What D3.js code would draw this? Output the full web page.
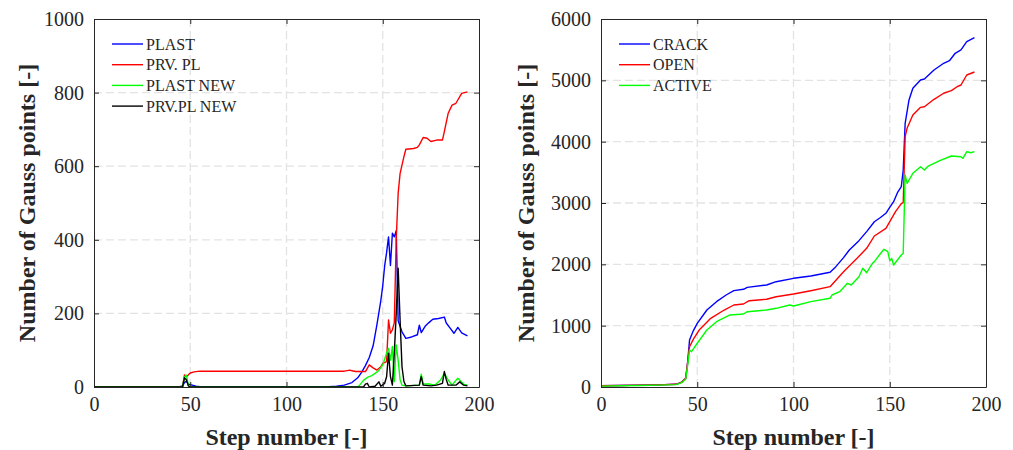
<!DOCTYPE html>
<html>
<head>
<meta charset="utf-8">
<script src="https://cdn.jsdelivr.net/npm/d3@7"></script>
<style>
  body { margin: 0; background: #fff; }
  svg text { font-family: "Liberation Serif", "Times New Roman", serif; fill: #262626; }
</style>
</head>
<body>
<div id="chart"></div>
<script>
//////////////////////
// DATA (read off) //
//////////////////////

var xTicks = [0, 50, 100, 150, 200];
var yTicksLeft = [0, 200, 400, 600, 800, 1000];
var yTicksRight = [0, 1000, 2000, 3000, 4000, 5000, 6000];

// left panel
var plastSteps = [0, 44, 46, 47, 48, 49, 51, 53, 56, 120, 126, 130, 134, 137, 139, 141, 143, 145, 147, 149, 150, 151, 152, 153, 154, 155, 156, 157, 158, 160, 162, 165, 168, 169, 170, 172, 174, 176, 179, 182, 183, 185, 187, 189, 191, 194];
var plastVals  = [0, 0, 3, 12, 16, 8, 5, 2, 0, 0, 2, 5, 12, 25, 40, 58, 80, 112, 170, 235, 275, 330, 365, 408, 330, 418, 408, 425, 180, 150, 132, 136, 142, 168, 148, 165, 175, 184, 186, 190, 174, 160, 146, 162, 147, 139];

var prvSteps = [0, 46, 47, 48, 50, 52, 55, 130, 133, 134, 136, 141, 143, 145, 147, 149, 150, 152, 153, 154, 155, 156, 157, 158, 159, 161, 162, 166, 168, 169, 171, 173, 175, 178, 181, 182, 184, 186, 188, 191, 194];
var prvVals  = [0, 0, 33, 28, 38, 41, 43, 43, 46, 44, 42, 42, 60, 52, 46, 55, 64, 69, 182, 146, 155, 175, 400, 526, 580, 626, 646, 648, 651, 658, 678, 676, 667, 671, 671, 694, 744, 766, 771, 798, 802];

var plastNewSteps = [0, 46, 47, 48, 49, 50, 137, 138, 140, 142, 144, 146, 148, 150, 152, 153, 154, 155, 156, 157, 158, 159, 160, 162, 169, 170, 171, 174, 177, 180, 182, 184, 186, 189, 192, 194];
var plastNewVals  = [0, 0, 28, 32, 5, 0, 0, 5, 18, 26, 30, 37, 45, 60, 92, 105, 73, 110, 15, 114, 73, 20, 5, 3, 5, 35, 8, 8, 5, 19, 37, 19, 5, 24, 8, 5];

var prvNewSteps = [0, 46, 47, 48, 49, 50, 140, 141, 142, 143, 146, 148, 149, 151, 152, 153, 154, 155, 156, 157, 158, 159, 160, 161, 162, 169, 170, 171, 175, 178, 181, 182, 183, 184, 188, 190, 192, 194];
var prvNewVals  = [0, 0, 25, 20, 3, 0, 0, 8, 10, 0, 2, 14, 2, 10, 28, 92, 28, 5, 92, 200, 323, 182, 55, 15, 3, 5, 28, 5, 3, 5, 10, 42, 20, 5, 5, 14, 5, 3];

// right panel
var crackSteps = [0, 10, 20, 30, 39, 42, 44, 45, 46, 48, 50, 55, 60, 65, 69, 74, 76, 86, 91, 100, 109, 119, 122, 126, 129, 134, 138, 142, 145, 148, 150, 152, 154, 156, 157, 158, 160, 162, 166, 168, 173, 178, 181, 184, 187, 190, 194];
var crackVals  = [20, 25, 30, 35, 44, 80, 142, 400, 766, 920, 1038, 1255, 1391, 1500, 1571, 1593, 1625, 1663, 1717, 1772, 1810, 1870, 1962, 2110, 2234, 2386, 2533, 2695, 2760, 2832, 2930, 3021, 3168, 3266, 3538, 4300, 4680, 4870, 5006, 5022, 5169, 5278, 5320, 5441, 5495, 5630, 5696];

var openSteps = [0, 10, 20, 30, 39, 42, 44, 45, 46, 48, 51, 57, 64, 69, 74, 77, 86, 91, 100, 109, 119, 126, 133, 138, 142, 148, 153, 156, 157, 158, 159, 162, 166, 168, 173, 178, 182, 185, 187, 190, 194];
var openVals  = [20, 25, 30, 35, 44, 80, 142, 400, 657, 780, 929, 1120, 1255, 1337, 1353, 1407, 1430, 1472, 1516, 1570, 1636, 1880, 2098, 2261, 2462, 2587, 2858, 2990, 3005, 4081, 4218, 4435, 4560, 4570, 4691, 4789, 4831, 4896, 4924, 5087, 5136];

var activeSteps = [0, 10, 20, 30, 39, 42, 44, 45, 46, 47, 50, 55, 60, 67, 74, 76, 86, 91, 98, 100, 109, 119, 120, 124, 128, 130, 134, 136, 138, 141, 142, 145, 147, 149, 150, 151, 152, 156, 157, 158, 159, 162, 166, 168, 170, 176, 182, 187, 188, 190, 192, 194];
var activeVals  = [15, 20, 25, 30, 38, 70, 130, 350, 603, 576, 713, 929, 1065, 1174, 1190, 1228, 1255, 1283, 1337, 1321, 1391, 1446, 1500, 1554, 1691, 1663, 1798, 1935, 1864, 2016, 2044, 2169, 2245, 2207, 2059, 2098, 1989, 2152, 2180, 3457, 3321, 3484, 3592, 3538, 3603, 3690, 3766, 3755, 3728, 3837, 3820, 3837];

var leftSeries = [
  { name: "PLAST", color: "#0000ff", steps: plastSteps, vals: plastVals },
  { name: "PRV. PL", color: "#ff0000", steps: prvSteps, vals: prvVals },
  { name: "PLAST NEW", color: "#00ff00", steps: plastNewSteps, vals: plastNewVals },
  { name: "PRV.PL NEW", color: "#000000", steps: prvNewSteps, vals: prvNewVals }
];
var rightSeries = [
  { name: "CRACK", color: "#0000ff", steps: crackSteps, vals: crackVals },
  { name: "OPEN", color: "#ff0000", steps: openSteps, vals: openVals },
  { name: "ACTIVE", color: "#00ff00", steps: activeSteps, vals: activeVals }
];

/////////
// SVG //
/////////

var svg = d3.select("#chart").append("svg")
  .attr("width", 1013).attr("height", 450)
  .attr("font-family", "Liberation Serif, serif");

var drawPanel = function(left, right, yMax, yTicks, series, labelX) {
  var top = 19, bottom = 387;
  var x = d3.scaleLinear().domain([0, 200]).range([left, right]);
  var y = d3.scaleLinear().domain([0, yMax]).range([bottom, top]);
  var g = svg.append("g");

  // grid
  g.selectAll(".vgrid").data(xTicks.slice(1, -1)).enter().append("line")
    .attr("x1", d => x(d)).attr("x2", d => x(d))
    .attr("y1", top).attr("y2", bottom)
    .attr("stroke", "#e3e3e3").attr("stroke-width", 1.3).attr("stroke-dasharray", "8,4");
  g.selectAll(".hgrid").data(yTicks.slice(1, -1)).enter().append("line")
    .attr("x1", left).attr("x2", right)
    .attr("y1", d => y(d)).attr("y2", d => y(d))
    .attr("stroke", "#e3e3e3").attr("stroke-width", 1.3).attr("stroke-dasharray", "8,4");

  // lines
  var line = d3.line().x(d => x(d[0])).y(d => y(d[1]));
  series.forEach(function(s) {
    var pts = s.steps.map((st, i) => [st, s.vals[i]]);
    g.append("path").datum(pts)
      .attr("d", line)
      .attr("fill", "none")
      .attr("stroke", s.color)
      .attr("stroke-width", 1.4)
      .attr("stroke-linejoin", "round");
  });

  // axes, ticks pointing in, on all four sides (matlab box)
  var fmt = d3.format("d");
  var axB = d3.axisBottom(x).tickValues(xTicks).tickFormat(fmt).tickSizeInner(-5).tickSizeOuter(0).tickPadding(10);
  var axT = d3.axisTop(x).tickValues(xTicks).tickSizeInner(-5).tickSizeOuter(0).tickFormat("");
  var axL = d3.axisLeft(y).tickValues(yTicks).tickFormat(fmt).tickSizeInner(-5).tickSizeOuter(0).tickPadding(10);
  var axR = d3.axisRight(y).tickValues(yTicks).tickSizeInner(-5).tickSizeOuter(0).tickFormat("");

  [[axB, "translate(0," + bottom + ")"], [axT, "translate(0," + top + ")"],
   [axL, "translate(" + left + ",0)"], [axR, "translate(" + right + ",0)"]].forEach(function(a) {
    var ag = g.append("g").attr("transform", a[1]).call(a[0])
      .attr("font-family", null).attr("font-size", null);
    ag.selectAll("path, line").attr("stroke", "#262626").attr("stroke-width", 1);
    ag.selectAll("text").style("font-size", "20px").attr("fill", "#262626");
  });

  // axis titles
  g.append("text")
    .attr("x", (left + right) / 2).attr("y", 445)
    .attr("text-anchor", "middle")
    .style("font-size", "24px").style("font-weight", "bold")
    .text("Step number [-]");
  g.append("text")
    .attr("transform", "translate(" + labelX + "," + ((top + bottom) / 2) + ") rotate(-90)")
    .attr("text-anchor", "middle")
    .style("font-size", "24px").style("font-weight", "bold")
    .text("Number of Gauss points [-]");

  // legend
  var lg = g.append("g").attr("transform", "translate(" + (left + 18) + ",44)");
  series.forEach(function(s, i) {
    lg.append("line")
      .attr("x1", 0).attr("x2", 31).attr("y1", i * 20.7).attr("y2", i * 20.7)
      .attr("stroke", s.color).attr("stroke-width", 1.4);
    lg.append("text")
      .attr("x", 34).attr("y", i * 20.7).attr("dy", "0.35em")
      .style("font-size", "16px")
      .text(s.name);
  });
};

drawPanel(94, 479, 1000, yTicksLeft, leftSeries, 35);
drawPanel(601, 986, 6000, yTicksRight, rightSeries, 534);
</script>
</body>
</html>
